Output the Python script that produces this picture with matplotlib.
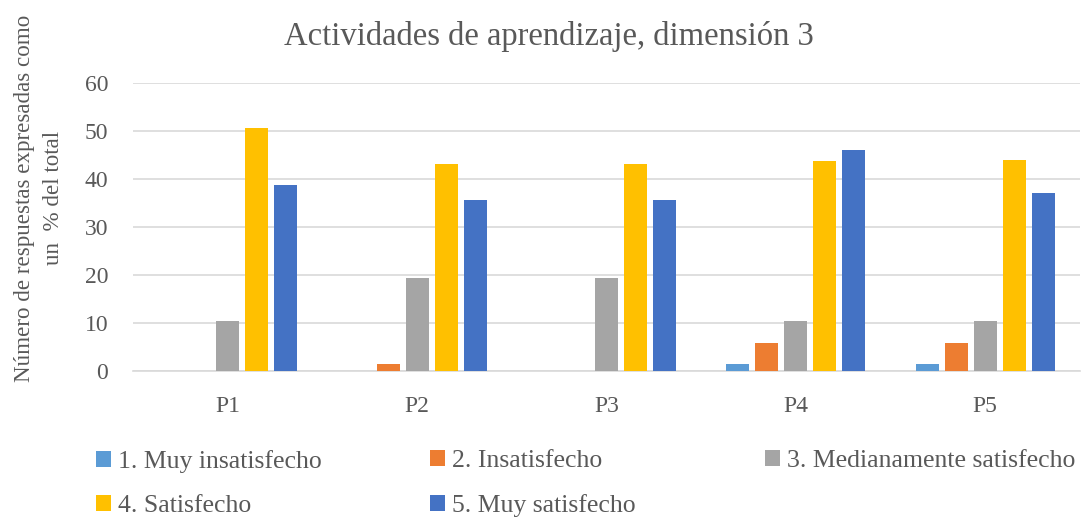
import numpy as np
import matplotlib.pyplot as plt

plt.rcParams['font.family'] = ['Liberation Serif', 'DejaVu Serif']

categories = ["P1", "P2", "P3", "P4", "P5"]
series_names = ["1. Muy insatisfecho", "2. Insatisfecho", "3. Medianamente satisfecho",
                "4. Satisfecho", "5. Muy satisfecho"]
muy_insatisfecho = [0, 0, 0, 1.4, 1.4]
insatisfecho = [0, 1.4, 0, 5.9, 5.9]
medianamente = [10.3, 19.4, 19.4, 10.3, 10.3]
satisfecho = [50.5, 43.1, 43.1, 43.8, 43.9]
muy_satisfecho = [38.7, 35.7, 35.7, 46.1, 37.1]
colors = ["#5B9BD5", "#ED7D31", "#A5A5A5", "#FFC000", "#4472C4"]

series = [muy_insatisfecho, insatisfecho, medianamente, satisfecho, muy_satisfecho]
text_color = "#595959"

fig = plt.figure(figsize=(10.82, 5.18), dpi=100)
ax = fig.add_axes([0.123, 0.284, 0.875, 0.556])

x = np.arange(len(categories))
pitch = 0.153
width = 0.121
handles = []
for i, (vals, name, col) in enumerate(zip(series, series_names, colors)):
    b = ax.bar(x + (i - 2) * pitch, vals, width, color=col, label=name, zorder=3)
    handles.append(b)

ax.set_xlim(-0.5, len(categories) - 0.5)
ax.set_ylim(0, 60)
ax.set_yticks(range(0, 61, 10))
ax.set_xticks(x)
ax.set_xticklabels(categories)
ax.grid(axis='y', color='#D9D9D9', linewidth=1.2, zorder=0)
for s in ["top", "right", "left"]:
    ax.spines[s].set_visible(False)
ax.spines["bottom"].set_color('#D9D9D9')
ax.spines["bottom"].set_linewidth(1.2)
ax.tick_params(length=0, labelsize=17, colors=text_color)
ax.tick_params(axis='y', pad=18)
ax.tick_params(axis='x', pad=18)

fig.text(0.507, 0.93, "Actividades de aprendizaje, dimensión 3", ha='center', va='center',
         fontsize=23.5, color=text_color)
fig.text(0.036, 0.618, "Número de respuestas expresadas como\nun  % del total", rotation=90,
         ha='center', va='center', fontsize=16.6, color=text_color, linespacing=1.45)

# legend: one legend per column so the column starts match
col_x = [96 / 1082, 430 / 1082, 765 / 1082]
col_items = [[0, 3], [1, 4], [2]]
for cx, items in zip(col_x, col_items):
    fig.legend([handles[i] for i in items], [series_names[i] for i in items],
               loc='upper left', bbox_to_anchor=(cx, 0.131), frameon=False, fontsize=18.5,
               labelcolor=text_color, handlelength=0.58, handleheight=0.58, handletextpad=0.27,
               labelspacing=0.86, borderpad=0, borderaxespad=0)

fig.savefig("out.png", dpi=100)
